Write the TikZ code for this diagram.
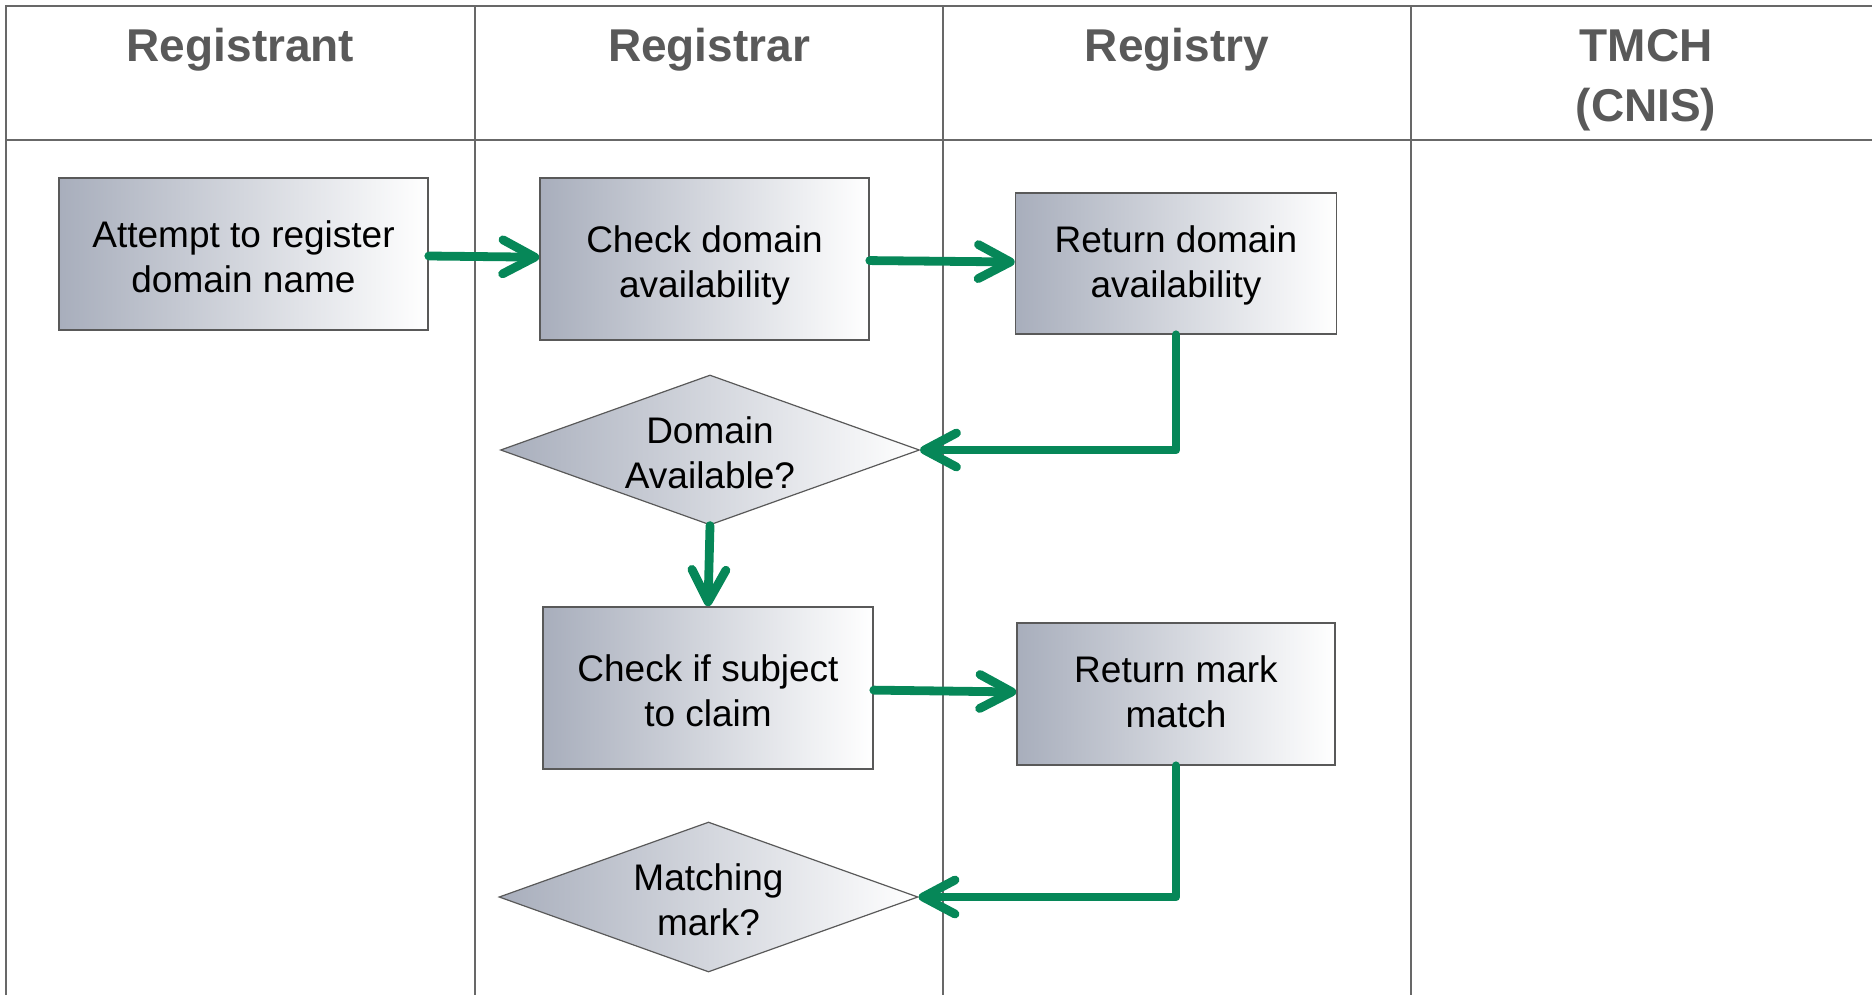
\documentclass[tikz,border=0pt]{standalone}
\usepackage{fontspec}
\setmainfont{Liberation Sans}
\usetikzlibrary{arrows.meta,shapes.geometric}

\definecolor{lanegray}{RGB}{104,104,104}
\definecolor{headgray}{RGB}{89,89,89}
\definecolor{boxgray}{RGB}{168,174,188}
\definecolor{flowgreen}{RGB}{6,135,88}

\begin{document}
\begin{tikzpicture}[x=0.5pt,y=-0.5pt,
    lane/.style={draw=lanegray,line width=1.1pt},
    head/.style={text=headgray,font=\fontsize{23}{30}\selectfont\bfseries,align=center},
    stepbox/.style={draw=headgray,line width=0.8pt,left color=boxgray,right color=white,
      font=\fontsize{18.5}{22.5}\selectfont,align=center,
      execute at begin node={\rule[-4pt]{0pt}{#1}}},
    stepbox/.default=46pt,
    decision/.style={diamond,draw=headgray,line width=0.6pt,left color=boxgray,right color=white,
      font=\fontsize{18.5}{22.5}\selectfont,align=center,inner sep=-6pt,aspect=2.8,
      minimum width=209.5pt,minimum height=75pt,
      execute at begin node={\rule{0pt}{38.5pt}}},
    flow/.style={draw=flowgreen,line width=4.4pt,line cap=round,line join=round,
      -{Straight Barb[length=16pt,width=17pt,line cap=round,line join=round]}}]
  \useasboundingbox (0,0) rectangle (1872,995);

  % swim lanes
  \draw[lane] (6,995) -- (6,6) -- (1872,6);
  \draw[lane] (6,140) -- (1872,140);
  \foreach \x in {475,943,1411}
    \draw[lane] (\x,6) -- (\x,995);

  \node[head,anchor=base] (H-1) at (240.5,62) {Registrant};
  \node[head,anchor=base] (H-2) at (709,62) {Registrar};
  \node[head,anchor=base] (H-3) at (1177,62) {Registry};
  \node[head] (H-4) at (1646,80) {TMCH\\(CNIS)};

  % steps
  \node[stepbox,minimum width=184.5pt,minimum height=76pt] (S-1) at (243.5,254) {Attempt to register\\domain name};
  \node[stepbox,minimum width=164.5pt,minimum height=81pt] (S-2) at (704.5,259) {Check domain\\availability};
  \node[stepbox=41.5pt,minimum width=160.5pt,minimum height=70.5pt] (S-3) at (1176,263.5) {Return domain\\availability};
  \node[decision] (D-1) at (710,450) {Domain\\Available?};
  \node[stepbox,minimum width=165pt,minimum height=81pt] (S-4) at (708,688) {Check if subject\\to claim};
  \node[stepbox=41.5pt,minimum width=159pt,minimum height=71pt] (S-5) at (1176,694) {Return mark\\match};
  \node[decision] (D-2) at (708.5,897) {Matching\\mark?};

  \draw[flow] (S-1) -- (S-2);
  \draw[flow] (S-2) -- (S-3);
  \draw[flow] (S-3.south) |- (D-1.east);
  \draw[flow] (D-1.south) -- (S-4.north);
  \draw[flow] (S-4) -- (S-5);
  \draw[flow] (S-5.south) |- (D-2.east);
\end{tikzpicture}
\end{document}
